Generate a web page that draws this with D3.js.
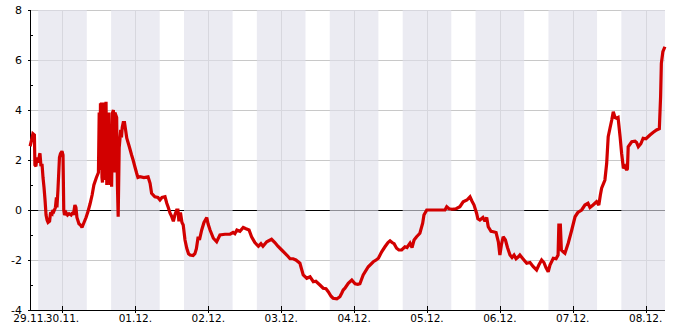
<!DOCTYPE html>
<html>
<head>
<meta charset="utf-8">
<script src="https://cdn.jsdelivr.net/npm/d3@7"></script>
<style>
  body { margin: 0; background: #fff; }
  svg { display: block; font-family: "DejaVu Sans", sans-serif; }
</style>
</head>
<body>
<script>
const width = 685;
const height = 330;
const margin = { left: 30, top: 10, right: 20, bottom: 20 };

// time of each reading (dd.mm. HH:MM) and the value
const times = [
  "29.11. 13:20", "29.11. 13:50", "29.11. 14:15", "29.11. 14:45", "29.11. 14:55", "29.11. 15:15",
  "29.11. 15:35", "29.11. 16:05", "29.11. 16:25", "29.11. 16:35", "29.11. 16:55", "29.11. 17:15",
  "29.11. 17:35", "29.11. 17:55", "29.11. 18:15", "29.11. 18:35", "29.11. 18:55", "29.11. 19:15",
  "29.11. 19:45", "29.11. 20:05", "29.11. 20:35", "29.11. 20:50", "29.11. 21:10", "29.11. 21:40",
  "29.11. 22:00", "29.11. 22:10", "29.11. 22:30", "29.11. 23:00", "29.11. 23:20", "29.11. 23:50",
  "30.11. 00:10", "30.11. 00:25", "30.11. 00:40", "30.11. 01:10", "30.11. 01:40", "30.11. 02:10",
  "30.11. 02:50", "30.11. 03:20", "30.11. 03:35", "30.11. 04:05", "30.11. 04:25", "30.11. 04:45",
  "30.11. 05:25", "30.11. 05:55", "30.11. 06:25", "30.11. 07:05", "30.11. 07:45", "30.11. 08:25",
  "30.11. 09:05", "30.11. 09:45", "30.11. 10:20", "30.11. 11:10", "30.11. 11:50",
  "30.11. 12:05", "30.11. 12:20", "30.11. 12:30", "30.11. 12:40", "30.11. 12:50", "30.11. 13:00",
  "30.11. 13:10", "30.11. 13:25", "30.11. 13:40", "30.11. 13:50",
  "30.11. 14:00", "30.11. 14:10", "30.11. 14:20", "30.11. 14:35", "30.11. 14:50", "30.11. 15:05",
  "30.11. 15:20", "30.11. 15:40",
  "30.11. 16:00", "30.11. 16:10", "30.11. 16:30", "30.11. 16:45", "30.11. 17:00", "30.11. 17:15",
  "30.11. 17:50",
  "30.11. 18:05", "30.11. 18:20", "30.11. 18:40", "30.11. 19:10", "30.11. 19:25", "30.11. 19:40",
  "30.11. 20:00", "30.11. 20:25", "30.11. 21:10", "30.11. 22:00", "30.11. 22:45", "30.11. 23:15",
  "30.11. 23:50", "01.12. 00:25", "01.12. 00:50", "01.12. 01:30", "01.12. 02:50", "01.12. 04:10",
  "01.12. 04:50", "01.12. 05:20", "01.12. 06:25", "01.12. 07:25", "01.12. 08:05", "01.12. 08:45",
  "01.12. 09:45", "01.12. 10:20", "01.12. 10:50", "01.12. 11:25", "01.12. 11:55", "01.12. 12:30",
  "01.12. 13:00", "01.12. 13:35", "01.12. 14:00", "01.12. 14:20", "01.12. 14:50", "01.12. 15:20",
  "01.12. 15:45", "01.12. 16:20", "01.12. 16:55", "01.12. 17:30", "01.12. 18:00", "01.12. 19:00",
  "01.12. 19:35", "01.12. 20:05", "01.12. 20:40", "01.12. 21:05", "01.12. 21:50", "01.12. 22:35",
  "01.12. 23:30", "01.12. 23:55", "02.12. 00:35", "02.12. 01:40", "02.12. 02:45", "02.12. 03:50",
  "02.12. 05:30", "02.12. 07:10", "02.12. 08:10", "02.12. 08:45", "02.12. 09:25", "02.12. 10:25",
  "02.12. 11:30", "02.12. 12:25", "02.12. 13:25", "02.12. 14:15", "02.12. 15:20", "02.12. 16:30",
  "02.12. 17:20", "02.12. 18:00", "02.12. 19:15", "02.12. 20:50", "02.12. 21:55", "02.12. 22:55",
  "03.12. 00:10", "03.12. 01:50", "03.12. 02:55", "03.12. 03:55", "03.12. 04:50", "03.12. 06:10",
  "03.12. 07:15", "03.12. 08:25", "03.12. 09:30", "03.12. 10:35", "03.12. 11:25", "03.12. 12:45",
  "03.12. 13:50", "03.12. 14:45", "03.12. 15:30", "03.12. 16:25", "03.12. 17:05", "03.12. 18:20",
  "03.12. 19:20", "03.12. 19:55", "03.12. 20:25", "03.12. 21:00", "03.12. 22:05", "03.12. 23:15",
  "04.12. 00:20", "04.12. 01:15", "04.12. 01:55", "04.12. 03:00", "04.12. 04:40", "04.12. 06:20",
  "04.12. 07:15", "04.12. 08:00", "04.12. 09:05", "04.12. 10:10", "04.12. 11:10", "04.12. 11:50",
  "04.12. 12:30", "04.12. 13:10", "04.12. 14:00", "04.12. 14:45", "04.12. 15:40", "04.12. 16:45",
  "04.12. 17:25", "04.12. 18:25", "04.12. 19:05", "04.12. 19:45", "04.12. 20:35", "04.12. 21:40",
  "04.12. 22:35", "04.12. 23:00", "04.12. 23:55", "05.12. 02:40", "05.12. 05:55", "05.12. 06:30",
  "05.12. 07:15", "05.12. 08:15", "05.12. 09:35", "05.12. 10:50", "05.12. 11:55", "05.12. 13:10",
  "05.12. 14:10", "05.12. 14:50", "05.12. 15:30", "05.12. 16:20", "05.12. 16:45", "05.12. 17:25",
  "05.12. 18:25", "05.12. 19:05", "05.12. 19:40", "05.12. 20:10", "05.12. 21:05", "05.12. 21:50",
  "05.12. 22:45", "05.12. 23:30", "06.12. 00:00", "06.12. 00:30", "06.12. 01:05", "06.12. 01:50",
  "06.12. 02:30", "06.12. 03:20", "06.12. 04:00", "06.12. 04:40", "06.12. 05:20", "06.12. 06:05",
  "06.12. 06:35", "06.12. 07:35", "06.12. 08:50", "06.12. 09:55", "06.12. 11:00", "06.12. 12:05",
  "06.12. 12:50", "06.12. 13:45", "06.12. 14:30", "06.12. 15:10", "06.12. 15:55", "06.12. 16:30",
  "06.12. 17:35", "06.12. 18:30", "06.12. 19:10", "06.12. 19:25", "06.12. 19:55", "06.12. 20:15",
  "06.12. 20:50", "06.12. 21:25", "06.12. 22:30", "06.12. 23:40", "07.12. 00:45", "07.12. 01:40",
  "07.12. 02:55", "07.12. 04:00", "07.12. 05:00", "07.12. 05:40", "07.12. 06:40", "07.12. 07:50",
  "07.12. 08:35", "07.12. 09:05", "07.12. 09:30", "07.12. 10:35", "07.12. 11:10", "07.12. 11:40",
  "07.12. 12:15", "07.12. 12:50", "07.12. 13:20", "07.12. 13:55", "07.12. 14:25", "07.12. 14:55",
  "07.12. 15:35", "07.12. 16:05", "07.12. 16:40", "07.12. 17:10", "07.12. 17:45", "07.12. 18:00",
  "07.12. 18:15", "07.12. 19:25", "07.12. 20:30", "07.12. 21:00", "07.12. 21:35", "07.12. 22:25",
  "07.12. 23:10", "08.12. 00:05", "08.12. 01:25", "08.12. 02:25", "08.12. 03:35", "08.12. 04:30",
  "08.12. 04:55", "08.12. 05:10", "08.12. 05:40", "08.12. 06:20"
];
const values = [
  2.55, 2.8, 3.05, 3.0, 1.8, 1.75,
  2.1, 1.9, 2.2, 2.27, 1.75, 1.85,
  1.3, 0.9, 0.4, -0.2, -0.4, -0.5,
  -0.45, -0.1, -0.15, 0.0, -0.05, 0.1,
  0.5, 0.1, 0.8, 2.1, 2.25, 2.35,
  2.2, 0.0, -0.2, -0.1, -0.2, -0.15,
  -0.2, -0.1, -0.2, 0.2, 0.1, -0.3,
  -0.55, -0.6, -0.7, -0.5, -0.3, -0.05,
  0.25, 0.6, 1.0, 1.3, 1.5,
  3.9, 1.6, 4.27, 1.9, 4.3, 1.3,
  1.1, 4.3, 1.2, 3.6,
  4.3, 1.4, 4.33, 1.0, 3.9, 1.8,
  3.9, 1.0,
  3.0, 0.93, 3.9, 4.0, 1.5, 3.9,
  3.7,
  1.0, -0.27, 2.5, 3.2, 2.9, 3.3,
  3.5, 3.5, 2.87, 2.53, 2.2, 2.0,
  1.73, 1.47, 1.3, 1.33, 1.3, 1.33,
  1.07, 0.67, 0.53, 0.5, 0.4, 0.5,
  0.53, 0.27, 0.1, -0.13, -0.25, -0.45,
  -0.2, 0.0, 0.0, -0.45, -0.1, -0.5,
  -0.6, -1.2, -1.53, -1.75, -1.8, -1.82,
  -1.75, -1.55, -1.07, -1.2, -0.8, -0.5,
  -0.3, -0.55, -0.8, -1.13, -1.27, -1.0,
  -0.97, -0.97, -0.9, -0.95, -0.8, -0.85,
  -0.7, -0.75, -0.8, -1.07, -1.3, -1.45,
  -1.35, -1.45, -1.27, -1.17, -1.3, -1.45,
  -1.6, -1.8, -1.95, -1.95, -2.0, -2.13,
  -2.6, -2.73, -2.67, -2.87, -2.85, -3.0,
  -3.13, -3.15, -3.27, -3.45, -3.53, -3.55,
  -3.47, -3.33, -3.2, -3.13, -2.93, -2.8,
  -2.95, -2.97, -2.95, -2.6, -2.27, -2.07,
  -2.0, -1.93, -1.67, -1.47, -1.3, -1.23,
  -1.3, -1.35, -1.53, -1.6, -1.6, -1.47,
  -1.5, -1.33, -1.5, -1.2, -1.07, -0.93,
  -0.53, -0.2, 0.0, 0.0, 0.0, 0.13,
  0.05, 0.03, 0.05, 0.13, 0.33, 0.4,
  0.53, 0.35, 0.2, -0.13, -0.35, -0.4,
  -0.3, -0.45, -0.3, -0.67, -0.85, -0.87,
  -0.9, -1.27, -1.8, -1.4, -1.07, -1.2,
  -1.5, -1.8, -1.9, -1.8, -1.95, -1.87,
  -1.8, -1.95, -2.13, -2.1, -2.27, -2.4,
  -2.2, -2.0, -2.1, -2.3, -2.47, -2.2,
  -1.93, -1.95, -1.8, -0.6, -0.6, -1.6,
  -1.67, -1.73, -1.33, -0.8, -0.27, -0.1,
  0.0, 0.2, 0.27, 0.1, 0.2, 0.33,
  0.2, 0.6, 0.87, 1.2, 1.87, 2.93,
  3.27, 3.6, 3.93, 3.7, 3.67, 3.7,
  2.93, 2.27, 1.67, 1.75, 1.6, 1.65,
  2.53, 2.73, 2.75, 2.7, 2.53, 2.65,
  2.87, 2.85, 3.0, 3.1, 3.2, 3.25,
  4.53, 5.87, 6.33, 6.53
];

const timeRange = ["29.11. 13:18", "08.12. 06:22"];
const dayTicks = ["30.11.", "01.12.", "02.12.", "03.12.", "04.12.", "05.12.", "06.12.", "07.12.", "08.12."];
const firstLabel = "29.11.";
const nightStarts = ["29.11. 16:00", "30.11. 16:00", "01.12. 16:00", "02.12. 16:00", "03.12. 16:00",
  "04.12. 16:00", "05.12. 16:00", "06.12. 16:00", "07.12. 16:00"];
const nightHours = 16;
const yMajor = [-4, -2, 0, 2, 4, 6, 8];
const yMinor = [-3, -1, 1, 3, 5, 7];

const parseTime = d3.timeParse("%d.%m. %H:%M");
const parseDay = d3.timeParse("%d.%m.");
const data = times.map((t, i) => ({ t: parseTime(t), v: values[i] }));

const svg = d3.select("body").append("svg")
  .attr("width", width)
  .attr("height", height);

const x = d3.scaleTime()
  .domain(timeRange.map(parseTime))
  .range([margin.left, width - margin.right]);
const y = d3.scaleLinear()
  .domain([-4, 8])
  .range([height - margin.bottom, margin.top]);

const x0 = margin.left, x1 = width - margin.right;
const yTop = margin.top, yBot = height - margin.bottom;

// grid
svg.append("g").selectAll("line").data(yMajor.filter(d => d !== -4 && d !== 0)).join("line")
  .attr("x1", x0).attr("x2", x1)
  .attr("y1", d => y(d) + 0.5).attr("y2", d => y(d) + 0.5)
  .attr("stroke", "#c8c8c8");
svg.append("g").selectAll("line").data(dayTicks).join("line")
  .attr("x1", d => Math.round(x(parseDay(d))) + 0.5).attr("x2", d => Math.round(x(parseDay(d))) + 0.5)
  .attr("y1", yTop).attr("y2", yBot)
  .attr("stroke", "#c8c8c8");
svg.append("line")
  .attr("x1", x0).attr("x2", x1)
  .attr("y1", y(0) + 0.5).attr("y2", y(0) + 0.5)
  .attr("stroke", "#000");

// night bands
svg.append("g").selectAll("rect").data(nightStarts).join("rect")
  .attr("x", d => Math.max(x0, x(parseTime(d))))
  .attr("y", yTop)
  .attr("width", d => Math.min(x1, x(d3.timeHour.offset(parseTime(d), nightHours))) - Math.max(x0, x(parseTime(d))))
  .attr("height", yBot - yTop)
  .attr("fill", "rgb(223,224,234)")
  .attr("fill-opacity", 0.64);

// axes
svg.append("line")
  .attr("x1", x0 + 0.5).attr("x2", x0 + 0.5).attr("y1", yTop).attr("y2", yBot + 0.5)
  .attr("stroke", "#000");
svg.append("line")
  .attr("x1", x0).attr("x2", x1).attr("y1", yBot + 0.5).attr("y2", yBot + 0.5)
  .attr("stroke", "#000");

svg.append("g").selectAll("line").data(yMajor).join("line")
  .attr("x1", x0 - 2).attr("x2", x0)
  .attr("y1", d => y(d) + 0.5).attr("y2", d => y(d) + 0.5)
  .attr("stroke", "#000");
svg.append("g").selectAll("line").data(yMinor).join("line")
  .attr("x1", x0).attr("x2", x0 + 3)
  .attr("y1", d => y(d) + 0.5).attr("y2", d => y(d) + 0.5)
  .attr("stroke", "#000");
svg.append("g").selectAll("text").data(yMajor).join("text")
  .attr("x", x0 - 8)
  .attr("y", d => y(d) + 4)
  .attr("text-anchor", "end")
  .attr("font-size", 11)
  .text(d => d);

svg.append("g").selectAll("line").data(dayTicks).join("line")
  .attr("x1", d => Math.round(x(parseDay(d))) + 0.5).attr("x2", d => Math.round(x(parseDay(d))) + 0.5)
  .attr("y1", yBot - 4).attr("y2", yBot + 3)
  .attr("stroke", "#000");
svg.append("g").selectAll("text").data(dayTicks).join("text")
  .attr("x", d => x(parseDay(d)))
  .attr("y", yBot + 12)
  .attr("text-anchor", "middle")
  .attr("font-size", 10.5)
  .text(d => d);
svg.append("text")
  .attr("x", x0)
  .attr("y", yBot + 12)
  .attr("text-anchor", "middle")
  .attr("font-size", 10.5)
  .text(firstLabel);

// series
const line = d3.line()
  .x(d => x(d.t))
  .y(d => y(d.v));

svg.append("path")
  .datum(data)
  .attr("d", line)
  .attr("fill", "none")
  .attr("stroke", "#d20000")
  .attr("stroke-width", 3.2)
  .attr("stroke-linejoin", "miter")
  .attr("stroke-miterlimit", 2);
</script>
</body>
</html>
